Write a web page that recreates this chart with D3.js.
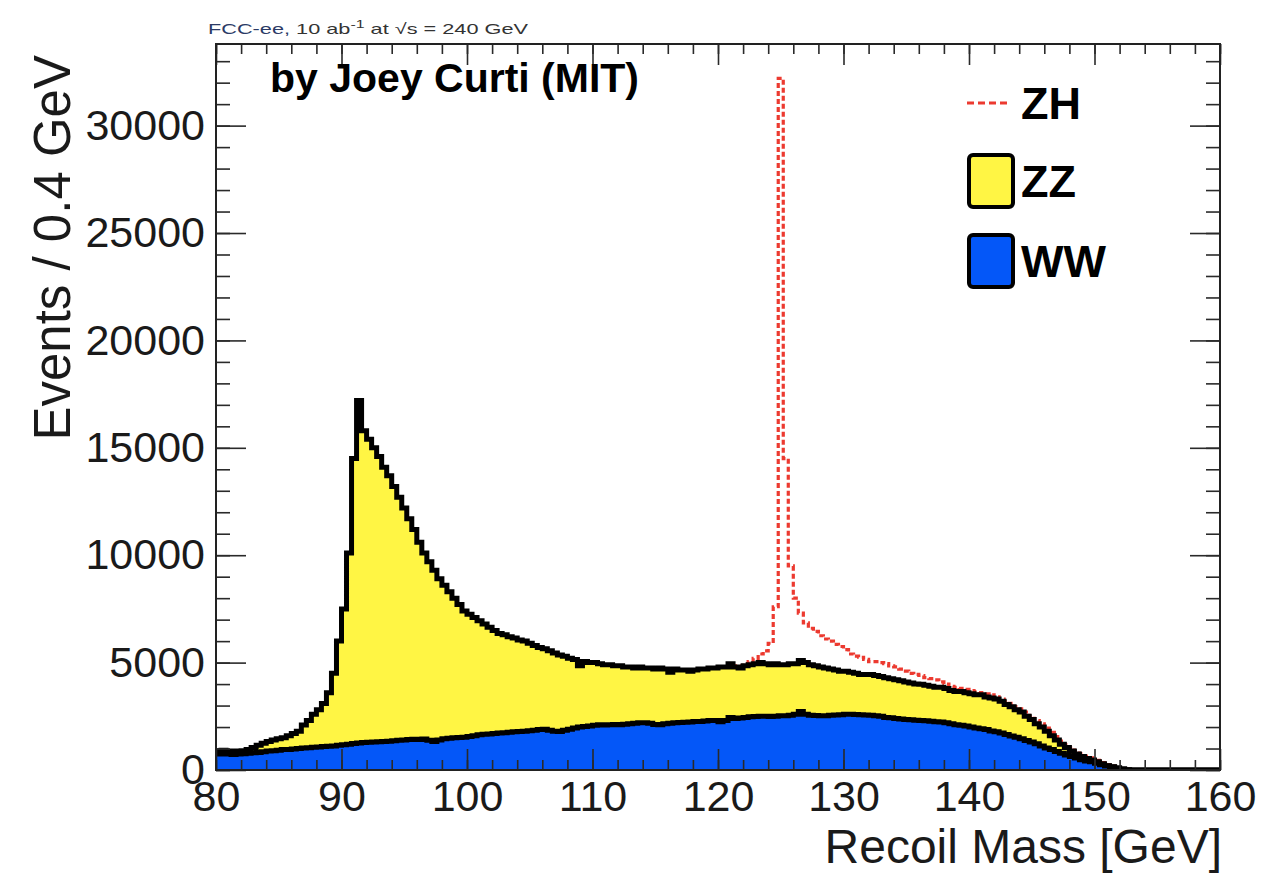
<!DOCTYPE html>
<html><head><meta charset="utf-8">
<script src="https://cdn.jsdelivr.net/npm/d3@7"></script>
<style>
body{margin:0;background:#fff}
svg{display:block}
text{font-family:"Liberation Sans",Arial,Helvetica,sans-serif}
</style>
</head><body>
<svg id="chart" width="1269" height="874"></svg>
<script>
// ---------------- data (events per 0.4 GeV bin, 80 -> 160 GeV) ----------------
const massMin = 80, massMax = 160, binWidth = 0.4;
const xTickLabels = [80, 90, 100, 110, 120, 130, 140, 150, 160];
const yTickLabels = [0, 5000, 10000, 15000, 20000, 25000, 30000];
const processes = ["WW", "ZZ", "ZH"];

const wwEvents = [
 750,760,740,720,750,760,780,800,820,850,
 880,900,920,950,960,980,1000,1020,1040,1060,
 1070,1090,1100,1120,1150,1180,1200,1230,1260,1280,
 1290,1300,1320,1330,1340,1360,1380,1400,1420,1430,
 1420,1440,1380,1330,1400,1450,1480,1500,1510,1530,
 1560,1600,1640,1660,1680,1700,1720,1740,1760,1780,
 1790,1800,1830,1850,1880,1900,1850,1800,1790,1850,
 1900,1950,2000,2020,2050,2080,2110,2100,2110,2120,
 2110,2130,2150,2180,2200,2200,2180,2120,2110,2150,
 2180,2200,2210,2220,2240,2260,2260,2280,2300,2300,
 2250,2300,2440,2400,2420,2450,2480,2490,2500,2500,
 2490,2500,2520,2530,2550,2600,2720,2600,2550,2540,
 2520,2530,2550,2560,2570,2600,2600,2580,2570,2560,
 2550,2520,2500,2450,2430,2400,2380,2350,2340,2320,
 2300,2290,2270,2250,2230,2200,2150,2110,2080,2050,
 2000,1960,1920,1880,1820,1780,1720,1650,1580,1520,
 1450,1370,1300,1220,1120,1030,950,860,780,700,
 630,560,480,420,380,320,250,190,140,90,
 50,15,0,0,0,0,0,0,0,0,
 0,0,0,0,0,0,0,0,0,0
];

const zzEvents = [
 150,160,150,150,130,140,170,250,330,400,
 450,500,530,550,640,720,800,1080,1260,1540,
 1730,2010,2500,3380,4850,6320,8900,13270,15940,14520,
 14110,13700,13280,12770,12360,11840,11320,10800,10280,9770,
 9180,8660,8320,7970,7500,7150,6820,6500,6190,5870,
 5690,5500,5310,5140,4970,4800,4630,4560,4440,4370,
 4260,4200,4070,3950,3820,3750,3700,3650,3560,3450,
 3300,3200,2850,3030,2950,2920,2840,2800,2790,2730,
 2740,2670,2650,2570,2600,2550,2570,2580,2640,2550,
 2370,2500,2440,2430,2360,2390,2440,2420,2450,2450,
 2550,2500,2510,2400,2330,2400,2420,2460,2500,2450,
 2410,2450,2380,2370,2400,2350,2380,2400,2350,2310,
 2280,2220,2150,2090,2030,2000,1950,1920,1880,1890,
 1900,1880,1850,1850,1820,1800,1770,1750,1710,1680,
 1690,1660,1630,1600,1620,1600,1550,1540,1570,1550,
 1550,1540,1580,1520,1530,1520,1480,1400,1370,1280,
 1250,1130,1050,930,880,770,650,540,420,350,
 250,190,150,120,90,60,40,10,10,0,
 0,0,0,0,0,0,0,0,0,0,
 0,0,0,0,0,0,0,0,0,0
];

const zhEvents = [
 0,0,0,0,0,0,0,0,0,0,
 0,0,0,0,0,0,0,0,0,0,
 0,0,0,0,0,0,0,0,0,0,
 0,0,0,0,0,0,0,0,0,0,
 0,0,0,0,0,0,0,0,0,0,
 0,0,0,0,0,0,0,0,0,0,
 0,0,0,0,0,0,0,0,0,0,
 0,0,0,0,0,0,0,0,0,0,
 0,0,0,0,0,0,0,0,0,0,
 0,0,0,0,0,0,0,0,0,0,
 0,0,0,50,100,100,150,250,400,600,
 1000,2650,27300,9600,4550,3050,2200,1850,1700,1600,
 1450,1350,1300,1200,1150,1000,850,800,800,700,
 600,650,650,650,600,600,550,500,450,450,
 410,350,350,350,250,200,200,200,150,150,
 150,150,100,150,150,100,100,150,150,150,
 150,200,150,150,150,150,150,150,150,130,
 150,130,130,110,90,70,60,50,30,30,
 20,10,0,0,0,0,0,0,0,0,
 0,0,0,0,0,0,0,0,0,0
];

// ---------------- layout ----------------
const frame = {left: 216, right: 1220, top: 44, bottom: 770};
const colors = {WW: "#0457f8", ZZ: "#fff544", ZH: "#ec3a30"};

const svg = d3.select("#chart");
const x = d3.scaleLinear().domain([massMin, massMax]).range([frame.left, frame.right]);
const y = d3.scaleLinear().domain([0, 33800]).range([frame.bottom, frame.top]);

const rows = wwEvents.map((v, i) => ({
  lo: massMin + i * binWidth,
  hi: massMin + (i + 1) * binWidth,
  WW: v, ZZ: zzEvents[i], ZH: zhEvents[i]
}));
const layers = d3.stack().keys(processes)(rows);

function stepPoints(layer) {
  const pts = [];
  layer.forEach(d => {
    pts.push({m: d.data.lo, y0: d[0], y1: d[1]});
    pts.push({m: d.data.hi, y0: d[0], y1: d[1]});
  });
  return pts;
}
const line = d3.line().x(d => x(d.m)).y(d => y(d.y1));
const areaFromZero = d3.area().x(d => x(d.m)).y0(y(0)).y1(d => y(d.y1));

svg.append("defs").append("clipPath").attr("id", "plotClip")
  .append("rect").attr("x", frame.left).attr("y", frame.top)
  .attr("width", frame.right - frame.left).attr("height", frame.bottom - frame.top);

const plot = svg.append("g").attr("clip-path", "url(#plotClip)");

const wwPts = stepPoints(layers[0]);
const zzPts = stepPoints(layers[1]);
const zhPts = stepPoints(layers[2]);

// ZH stacked on top, dashed red outline
plot.append("path").attr("d", line(zhPts))
  .attr("fill", "none").attr("stroke", colors.ZH).attr("stroke-width", 3.2)
  .attr("stroke-dasharray", "5,3");

// ZZ (total WW+ZZ) yellow fill + outline
plot.append("path").attr("d", areaFromZero(zzPts)).attr("fill", colors.ZZ);
plot.append("path").attr("d", line(zzPts))
  .attr("fill", "none").attr("stroke", "#000").attr("stroke-width", 5);

// WW blue fill + outline
plot.append("path").attr("d", areaFromZero(wwPts)).attr("fill", colors.WW);
plot.append("path").attr("d", line(wwPts))
  .attr("fill", "none").attr("stroke", "#000").attr("stroke-width", 5);

// ---------------- axes (ticks on all four sides, pointing inward) ----------------
const tickColor = "#2a2a2a";
function styleAxis(g) {
  g.select(".domain").remove();
  g.selectAll(".tick line").attr("stroke", tickColor).attr("stroke-width", 1.6);
  g.selectAll(".tick text").attr("fill", "#1a1a1a")
    .style("font-size", "43px").style("font-family", '"Liberation Sans", Arial, sans-serif');
}
const xMinor = d3.range(massMin, massMax + 0.001, 2);
const yMinor = d3.range(0, 33001, 1000);

// bottom
svg.append("g").attr("transform", `translate(0,${frame.bottom})`)
  .call(d3.axisBottom(x).tickValues(xMinor).tickSize(-10).tickFormat(""))
  .call(styleAxis);
svg.append("g").attr("transform", `translate(0,${frame.bottom})`)
  .call(d3.axisBottom(x).tickValues(xTickLabels).tickSize(-21).tickPadding(10).tickFormat(d3.format("d")))
  .call(styleAxis);
// top
svg.append("g").attr("transform", `translate(0,${frame.top})`)
  .call(d3.axisTop(x).tickValues(xMinor).tickSize(-10).tickFormat(""))
  .call(styleAxis);
svg.append("g").attr("transform", `translate(0,${frame.top})`)
  .call(d3.axisTop(x).tickValues(xTickLabels).tickSize(-21).tickFormat(""))
  .call(styleAxis);
// left
svg.append("g").attr("transform", `translate(${frame.left},0)`)
  .call(d3.axisLeft(y).tickValues(yMinor).tickSize(-14).tickFormat(""))
  .call(styleAxis);
svg.append("g").attr("transform", `translate(${frame.left},0)`)
  .call(d3.axisLeft(y).tickValues(yTickLabels).tickSize(-30).tickPadding(11).tickFormat(d3.format("d")))
  .call(styleAxis);
// right
svg.append("g").attr("transform", `translate(${frame.right},0)`)
  .call(d3.axisRight(y).tickValues(yMinor).tickSize(-14).tickFormat(""))
  .call(styleAxis);
svg.append("g").attr("transform", `translate(${frame.right},0)`)
  .call(d3.axisRight(y).tickValues(yTickLabels).tickSize(-30).tickFormat(""))
  .call(styleAxis);

// frame
svg.append("rect").attr("x", frame.left).attr("y", frame.top)
  .attr("width", frame.right - frame.left).attr("height", frame.bottom - frame.top)
  .attr("fill", "none").attr("stroke", "#222").attr("stroke-width", 2);

// ---------------- titles ----------------
svg.append("text").attr("x", frame.right + 2).attr("y", 863)
  .attr("text-anchor", "end").style("font-size", "48px").attr("fill", "#1a1a1a")
  .text("Recoil Mass [GeV]");
svg.append("text").attr("transform", "translate(70,55) rotate(-90)")
  .attr("text-anchor", "end").style("font-size", "51px").attr("fill", "#1a1a1a")
  .text("Events / 0.4 GeV");

svg.append("text").attr("x", 270).attr("y", 92)
  .style("font-size", "41px").style("font-weight", "bold").attr("fill", "#000")
  .text("by Joey Curti (MIT)");

// small header
const hdr = svg.append("text").attr("x", 208).attr("y", 34)
  .style("font-size", "15px").attr("fill", "#333");
hdr.append("tspan").attr("fill", "#2b3a66").text("FCC-ee, ");
hdr.append("tspan").text("10 ab");
hdr.append("tspan").attr("dy", -6).style("font-size", "11px").text("-1");
hdr.append("tspan").attr("dy", 6).text(" at \u221As = 240 GeV");
hdr.attr("textLength", 320).attr("lengthAdjust", "spacingAndGlyphs");

// ---------------- legend ----------------
const legendRows = [
  {key: "ZH", cy: 103},
  {key: "ZZ", cy: 181},
  {key: "WW", cy: 261}
];
const leg = svg.append("g");
legendRows.forEach(r => {
  if (r.key === "ZH") {
    leg.append("line").attr("x1", 967).attr("x2", 1011).attr("y1", r.cy).attr("y2", r.cy)
      .attr("stroke", colors.ZH).attr("stroke-width", 3.2).attr("stroke-dasharray", "7,4");
  } else {
    leg.append("rect").attr("x", 969).attr("y", r.cy - 26).attr("width", 44).attr("height", 52)
      .attr("rx", 4).attr("fill", colors[r.key]).attr("stroke", "#000").attr("stroke-width", 4);
  }
  leg.append("text").attr("x", 1021).attr("y", r.cy + 16)
    .style("font-size", "45px").style("font-weight", "bold").attr("fill", "#000")
    .text(r.key);
});
</script>
</body></html>
